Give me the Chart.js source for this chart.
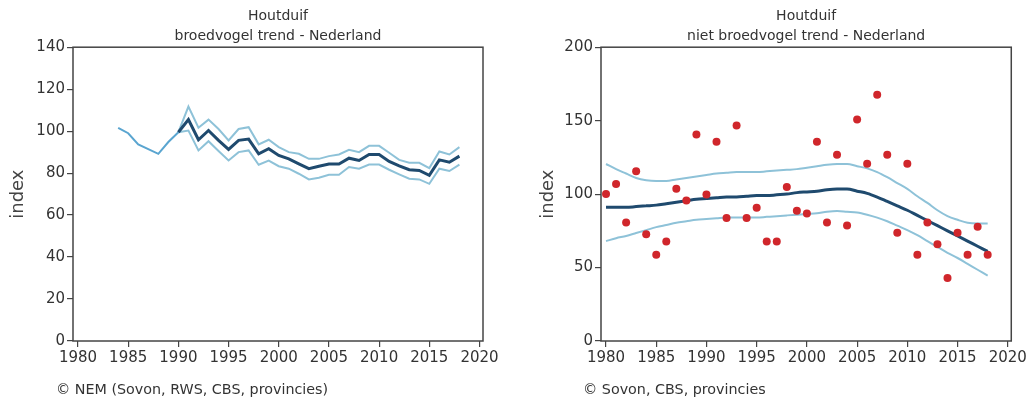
<!doctype html>
<html lang="nl">
<head>
<meta charset="utf-8">
<title>Houtduif trends</title>
<script src="https://cdn.jsdelivr.net/npm/chart.js@4.4.0/dist/chart.umd.min.js"></script>
<style>
  body { margin: 0; background: #fff; width: 1029px; height: 403px; overflow: hidden; position: relative; font-family: "DejaVu Sans", sans-serif; }
  .box { position: absolute; top: 0; height: 403px; }
  #left { left: 0; width: 515px; }
  #right { left: 515px; width: 514px; }
  .credit { position: absolute; top: 381px; font-size: 14.3px; color: #333; white-space: nowrap; }
</style>
</head>
<body>
<div class="box" id="left"><canvas id="chartLeft"></canvas></div>
<div class="box" id="right"><canvas id="chartRight"></canvas></div>
<div class="credit" style="left:56px">© NEM (Sovon, RWS, CBS, provincies)</div>
<div class="credit" style="left:583px">© Sovon, CBS, provincies</div>
<script>
// broedvogel trend (left)
const breedYears = [1984, 1985, 1986, 1987, 1988, 1989, 1990, 1991, 1992, 1993, 1994, 1995, 1996, 1997, 1998, 1999,
  2000, 2001, 2002, 2003, 2004, 2005, 2006, 2007, 2008, 2009, 2010, 2011, 2012, 2013, 2014, 2015, 2016, 2017, 2018];
const breedIndex = [101.6, 99, 93.7, 91.4, 89.2, 94.8, 99.5, 105.5, 95.9, 100.3, 95.6, 91.3, 95.6, 96.2, 89.2, 91.6,
  88.4, 86.8, 84.4, 82.1, 83.3, 84.3, 84.3, 87.1, 86, 88.9, 88.9, 85.6, 83.5, 81.6, 81.3, 78.9, 86.3, 85.2, 88.1];
const breedUpper = [null, null, null, null, null, null, 99.5, 111.7, 101.6, 105.5, 101, 95.6, 101, 101.9, 93.7, 95.9,
  92.4, 90, 89.2, 86.8, 86.8, 88.1, 88.9, 91.1, 90, 93, 93, 89.7, 86.3, 84.9, 84.9, 82.4, 90.3, 88.9, 92.4];
const breedLower = [null, null, null, null, null, null, 99.5, 100.3, 90.8, 95.2, 90.5, 86, 90, 90.8, 84, 86,
  83.3, 82.1, 79.7, 77, 77.8, 79.2, 79.2, 82.9, 82.1, 84.1, 84.1, 81.6, 79.4, 77.3, 77, 74.9, 82.1, 81, 84];

// niet broedvogel trend (right)
const winterYears = [1980, 1981, 1982, 1983, 1984, 1985, 1986, 1987, 1988, 1989, 1990, 1991, 1992, 1993, 1994, 1995,
  1996, 1997, 1998, 1999, 2000, 2001, 2002, 2003, 2004, 2005, 2006, 2007, 2008, 2009, 2010, 2011, 2012, 2013, 2014,
  2015, 2016, 2017, 2018];
const winterIndex = [100, 106.8, 80.7, 115.6, 72.6, 58.7, 67.8, 103.6, 95.7, 140.6, 99.8, 135.6, 83.7, 146.7, 83.7, 90.7,
  67.8, 67.8, 104.8, 88.7, 86.8, 135.6, 80.7, 126.8, 78.7, 150.8, 120.6, 167.6, 126.8, 73.7, 120.6, 58.7, 80.7, 65.8, 42.9,
  73.7, 58.7, 77.8, 58.7];
const winterTrend = [91, 91, 91, 91.5, 92, 92.5, 93.5, 94.5, 95.5, 96.5, 97, 97.5, 98, 98, 98.5, 99,
  99, 99.5, 100, 101, 101.5, 102, 103, 103.5, 103.5, 102, 100.5, 98, 95, 92, 89, 85.5, 82, 78.5, 75,
  71.5, 68, 64.5, 61];
const winterUpper = [120.5, 117, 114, 111, 109.5, 109, 109, 110, 111, 112, 113, 114, 114.5, 115, 115, 115,
  115.5, 116, 116.5, 117, 118, 119, 120, 120.5, 120.5, 119, 117.5, 115, 111.5, 107.5, 103.5, 98.5, 94, 89, 85,
  82.5, 80.5, 80, 80];
const winterLower = [68, 70, 71.5, 73.5, 75.5, 77.5, 79, 80.5, 81.5, 82.5, 83, 83.5, 84, 84, 84, 84,
  84.5, 85, 85.5, 86, 86.5, 87, 88, 88.5, 88, 87.5, 86, 84, 81.5, 78.5, 75.5, 72, 68, 64, 60,
  56.5, 52.5, 48.5, 44.5];

const xTicks = [1980, 1985, 1990, 1995, 2000, 2005, 2010, 2015, 2020];

const DARK = '#1f4a6e';
const LIGHT = '#8ec2d8';
const EARLY = '#5aa5d0';
const RED = '#d0262b';

const pts = (xs, ys) => xs.map((x, i) => ({ x: x, y: ys[i] })).filter(p => p.y !== null);

const frame = {
  id: 'frame',
  afterDraw(chart) {
    const { ctx, chartArea: a } = chart;
    ctx.save();
    ctx.strokeStyle = '#444';
    ctx.lineWidth = 1.5;
    ctx.strokeRect(a.left, a.top, a.right - a.left, a.bottom - a.top);
    ctx.restore();
  }
};

const makeOptions = (titleLines, yMax, yStep, yWidth, padRight, titleTop) => ({
  responsive: true,
  maintainAspectRatio: false,
  animation: false,
  layout: { padding: { left: 0, right: padRight, top: 0, bottom: 0 } },
  plugins: {
    legend: { display: false },
    tooltip: { enabled: false },
    title: {
      display: true,
      text: titleLines,
      fullSize: false,
      color: '#333',
      font: { family: 'DejaVu Sans', size: 14, weight: 'normal', lineHeight: 1.4 },
      padding: { top: 7, bottom: 1 }
    }
  },
  scales: {
    x: {
      type: 'linear',
      min: 1979.5,
      max: 2020.35,
      afterBuildTicks: (axis) => { axis.ticks = xTicks.map(v => ({ value: v })); },
      afterFit: (scale) => { scale.height = 62; },
      border: { display: false },
      grid: { drawOnChartArea: false, drawTicks: true, tickLength: 6, color: '#444', lineWidth: 1.2 },
      ticks: { color: '#333', padding: 2, font: { family: 'DejaVu Sans', size: 15 }, maxRotation: 0, callback: v => String(v) }
    },
    y: {
      min: 0,
      max: yMax,
      afterFit: (scale) => { scale.width = yWidth; },
      border: { display: false },
      grid: { drawOnChartArea: false, drawTicks: true, tickLength: 6, color: '#444', lineWidth: 1.2 },
      ticks: { stepSize: yStep, color: '#333', padding: 2, font: { family: 'DejaVu Sans', size: 15 } },
      title: {
        display: true,
        text: 'index',
        color: '#444',
        font: { family: 'DejaVu Sans', size: 18 },
        padding: { top: titleTop, bottom: 0 }
      }
    }
  }
});

new Chart(document.getElementById('chartLeft'), {
  type: 'line',
  data: {
    datasets: [
      {
        label: 'index',
        data: pts(breedYears, breedIndex),
        borderColor: DARK,
        borderWidth: 3,
        pointRadius: 0,
        tension: 0,
        order: 0,
        segment: {
          borderColor: c => c.p0.parsed.x < 1990 ? EARLY : DARK,
          borderWidth: c => c.p0.parsed.x < 1990 ? 2 : 3
        }
      },
      { label: 'boven', data: pts(breedYears, breedUpper), borderColor: LIGHT, borderWidth: 2, pointRadius: 0, tension: 0, order: 1 },
      { label: 'onder', data: pts(breedYears, breedLower), borderColor: LIGHT, borderWidth: 2, pointRadius: 0, tension: 0, order: 1 }
    ]
  },
  options: makeOptions(['Houtduif', 'broedvogel trend - Nederland'], 140, 20, 73, 32, 8),
  plugins: [frame]
});

new Chart(document.getElementById('chartRight'), {
  type: 'line',
  data: {
    datasets: [
      { label: 'index', data: pts(winterYears, winterIndex), showLine: false, pointRadius: 4, pointBackgroundColor: RED, pointBorderWidth: 0, order: 0 },
      { label: 'trend', data: pts(winterYears, winterTrend), borderColor: DARK, borderWidth: 3, pointRadius: 0, tension: 0.4, cubicInterpolationMode: 'monotone', order: 1 },
      { label: 'boven', data: pts(winterYears, winterUpper), borderColor: LIGHT, borderWidth: 2, pointRadius: 0, tension: 0.4, cubicInterpolationMode: 'monotone', order: 2 },
      { label: 'onder', data: pts(winterYears, winterLower), borderColor: LIGHT, borderWidth: 2, pointRadius: 0, tension: 0.4, cubicInterpolationMode: 'monotone', order: 2 }
    ]
  },
  options: makeOptions(['Houtduif', 'niet broedvogel trend - Nederland'], 200, 50, 86, 17, 23),
  plugins: [frame]
});
</script>
</body>
</html>
